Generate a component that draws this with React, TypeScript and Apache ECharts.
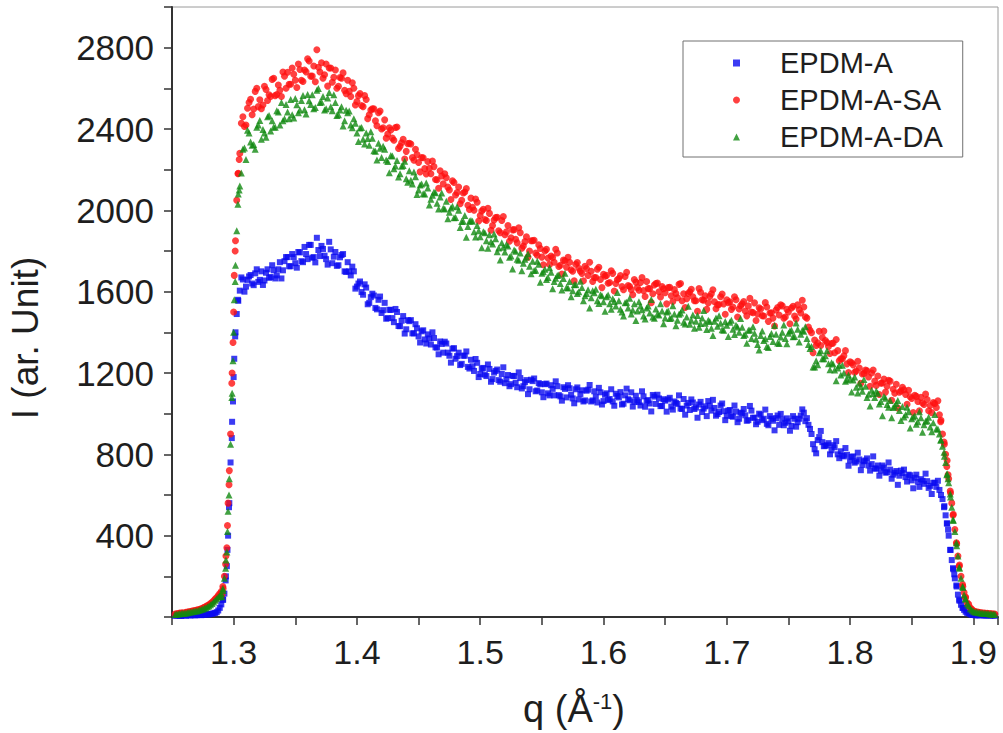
import React, { useEffect, useRef } from "react";
import * as echarts from "echarts";

// Main q grid: Q_START + i * Q_STEP (1.2525 ... 1.9175);
// second reading set sits half a step later (1.25375 ... 1.91625).
const Q_START = 1.2525;
const Q_STEP = 0.0025;

const seriesNames = ["EPDM-A", "EPDM-A-SA", "EPDM-A-DA"];
const xTickLabels = ["1.3", "1.4", "1.5", "1.6", "1.7", "1.8", "1.9"];
const yTickLabels = ["400", "800", "1200", "1600", "2000", "2400", "2800"];

// EPDM-A (blue squares)
const epdmA = [
  6, 9, 5, 8, 11, 7, 10, 9, 12, 10, 14, 13, 16, 20, 32, 62, 115, 330, 760, 1180,
  1490, 1605, 1660, 1625, 1675, 1640, 1690, 1648, 1700, 1655, 1710, 1672, 1705, 1680, 1745, 1705, 1770, 1725, 1785, 1740,
  1795, 1750, 1820, 1760, 1830, 1770, 1865, 1775, 1810, 1760, 1845, 1740, 1795, 1730, 1780, 1700, 1745, 1680, 1700, 1625,
  1650, 1585, 1620, 1545, 1590, 1520, 1560, 1495, 1545, 1470, 1510, 1450, 1500, 1430, 1480, 1415, 1455, 1395, 1440, 1380,
  1405, 1365, 1390, 1340, 1372, 1325, 1355, 1300, 1345, 1285, 1320, 1270, 1300, 1245, 1285, 1230, 1265, 1210, 1250, 1195,
  1225, 1185, 1220, 1170, 1210, 1165, 1195, 1150, 1190, 1145, 1185, 1130, 1175, 1135, 1165, 1120, 1160, 1110, 1150, 1105,
  1145, 1100, 1140, 1090, 1135, 1085, 1130, 1080, 1125, 1075, 1120, 1070, 1115, 1065, 1118, 1060, 1110, 1055, 1105, 1062,
  1100, 1072, 1060, 1098, 1080, 1045, 1090, 1071, 1105, 1058, 1066, 1040, 1085, 1062, 1050, 1092, 1048, 1075, 1038, 1064,
  1070, 1035, 1060, 1048, 1025, 1072, 1040, 1018, 1055, 1030, 1045, 1008, 1036, 1062, 1015, 1028, 998, 1040, 1012, 990,
  1018, 985, 1010, 975, 1002, 992, 968, 1015, 980, 960, 995, 975, 950, 988, 965, 978, 945, 972, 955, 962,
  940, 975, 958, 990, 1005, 978, 925, 850, 805, 885, 860, 842, 855, 820, 835, 800, 815, 790, 798, 770,
  790, 765, 775, 748, 770, 745, 752, 730, 745, 720, 735, 712, 725, 700, 718, 695, 708, 688, 700, 672,
  685, 665, 678, 655, 668, 645, 660, 640, 625, 580, 500, 400, 280, 190, 110, 60, 35, 20, 14, 10,
  9, 8, 10, 7, 9, 8, 6,
];
const epdmA2 = [
  7, 5, 10, 6, 9, 12, 8, 11, 9, 13, 12, 15, 18, 24, 45, 85, 200, 540, 960, 1380,
  1555, 1670, 1600, 1658, 1682, 1632, 1710, 1658, 1633, 1693, 1668, 1730, 1665, 1710, 1665, 1750, 1770, 1725, 1770, 1718,
  1793, 1745, 1785, 1830, 1767, 1744, 1805, 1825, 1777, 1733, 1808, 1772, 1727, 1769, 1785, 1697, 1700, 1723, 1615, 1640,
  1598, 1636, 1538, 1573, 1581, 1513, 1576, 1509, 1467, 1511, 1470, 1515, 1431, 1457, 1394, 1460, 1460, 1395, 1420, 1350,
  1410, 1345, 1370, 1400, 1326, 1292, 1343, 1354, 1300, 1251, 1322, 1283, 1239, 1285, 1306, 1222, 1233, 1269, 1180, 1222,
  1192, 1242, 1157, 1202, 1217, 1157, 1228, 1169, 1135, 1186, 1152, 1203, 1124, 1155, 1096, 1167, 1173, 1114, 1145, 1081,
  1148, 1090, 1122, 1159, 1091, 1064, 1122, 1140, 1093, 1051, 1129, 1097, 1060, 1113, 1141, 1065, 1083, 1127, 1045, 1093,
  1067, 1120, 1039, 1087, 1106, 1049, 1123, 1066, 1035, 1088, 1057, 1110, 1034, 1067, 1011, 1084, 1093, 1037, 1071, 1010,
  1078, 1020, 1053, 1090, 1023, 995, 1053, 1070, 1023, 980, 1058, 1025, 988, 1040, 1068, 990, 1008, 1050, 968, 1015,
  988, 1040, 958, 1005, 1023, 965, 1038, 980, 948, 1000, 968, 1020, 943, 975, 918, 991, 999, 943, 977, 916,
  988, 936, 975, 1021, 963, 945, 900, 825, 870, 915, 840, 845, 800, 845, 865, 781, 793, 831, 744, 787,
  759, 808, 722, 766, 780, 720, 790, 730, 695, 745, 710, 760, 680, 710, 650, 720, 725, 666, 697, 633,
  700, 640, 670, 705, 635, 605, 660, 670, 600, 540, 460, 330, 235, 155, 80, 45, 26, 18, 11, 9,
  8, 10, 7, 9, 6, 8,
];

// EPDM-A-SA (red circles)
const epdmASA = [
  14, 17, 20, 18, 24, 27, 30, 34, 38, 44, 52, 60, 72, 88, 105, 125, 200, 450, 900, 1500,
  2050, 2280, 2460, 2420, 2530, 2470, 2585, 2510, 2500, 2610, 2540, 2560, 2650, 2570, 2590, 2680, 2600, 2620, 2700, 2640,
  2720, 2640, 2690, 2745, 2660, 2710, 2790, 2680, 2650, 2720, 2700, 2630, 2690, 2610, 2650, 2590, 2640, 2560, 2600, 2535,
  2575, 2510, 2545, 2470, 2500, 2440, 2480, 2400, 2445, 2375, 2395, 2345, 2410, 2315, 2350, 2290, 2330, 2260, 2300, 2235,
  2260, 2205, 2240, 2180, 2215, 2150, 2195, 2130, 2160, 2100, 2145, 2075, 2115, 2050, 2090, 2025, 2060, 2000, 2040, 1975,
  2005, 1950, 1985, 1925, 1965, 1900, 1950, 1880, 1925, 1865, 1905, 1840, 1890, 1825, 1870, 1800, 1850, 1790, 1830, 1770,
  1800, 1765, 1775, 1745, 1790, 1730, 1755, 1720, 1745, 1700, 1735, 1715, 1690, 1725, 1680, 1700, 1670, 1710, 1660, 1685,
  1680, 1645, 1690, 1640, 1665, 1625, 1675, 1630, 1610, 1660, 1620, 1645, 1605, 1650, 1615, 1590, 1640, 1600, 1625, 1595,
  1620, 1580, 1610, 1570, 1640, 1590, 1565, 1600, 1575, 1555, 1615, 1560, 1580, 1545, 1590, 1550, 1535, 1575, 1540, 1560,
  1550, 1525, 1560, 1515, 1540, 1505, 1530, 1500, 1545, 1490, 1515, 1480, 1525, 1495, 1470, 1510, 1485, 1530, 1475, 1500,
  1520, 1480, 1535, 1495, 1525, 1470, 1410, 1300, 1335, 1405, 1375, 1360, 1330, 1345, 1300, 1310, 1270, 1285, 1245, 1255,
  1240, 1210, 1225, 1195, 1215, 1180, 1200, 1160, 1185, 1150, 1170, 1135, 1160, 1120, 1145, 1105, 1130, 1095, 1115, 1075,
  1090, 1060, 1080, 1045, 1070, 1040, 1055, 1030, 995, 900, 800, 680, 560, 430, 300, 200, 120, 70, 45, 30,
  25, 22, 20, 18, 17, 16, 15,
];
const epdmASA2 = [
  16, 19, 21, 23, 26, 29, 32, 36, 41, 48, 56, 66, 80, 96, 115, 150, 300, 650, 1200, 1800,
  2182, 2428, 2412, 2502, 2546, 2498, 2600, 2544, 2518, 2594, 2568, 2644, 2564, 2616, 2560, 2659, 2679, 2620, 2669, 2604,
  2693, 2634, 2681, 2734, 2660, 2632, 2704, 2726, 2667, 2611, 2700, 2654, 2600, 2653, 2676, 2574, 2585, 2627, 2518, 2564,
  2516, 2564, 2451, 2493, 2499, 2416, 2488, 2406, 2355, 2406, 2355, 2407, 2304, 2332, 2252, 2328, 2326, 2246, 2274, 2189,
  2259, 2179, 2207, 2242, 2152, 2109, 2169, 2180, 2114, 2053, 2137, 2088, 2032, 2085, 2107, 2004, 2015, 2056, 1948, 1997,
  1955, 2010, 1902, 1952, 1966, 1890, 1970, 1894, 1848, 1904, 1858, 1914, 1814, 1846, 1770, 1850, 1853, 1779, 1812, 1732,
  1808, 1734, 1768, 1809, 1724, 1687, 1752, 1769, 1708, 1653, 1743, 1701, 1654, 1714, 1745, 1650, 1670, 1720, 1620, 1676,
  1641, 1703, 1603, 1659, 1679, 1609, 1695, 1625, 1585, 1647, 1607, 1669, 1576, 1615, 1546, 1633, 1642, 1574, 1614, 1540,
  1621, 1552, 1591, 1636, 1555, 1522, 1591, 1612, 1555, 1504, 1597, 1558, 1513, 1576, 1609, 1516, 1537, 1588, 1489, 1546,
  1513, 1575, 1475, 1531, 1551, 1481, 1567, 1497, 1458, 1521, 1482, 1546, 1454, 1496, 1431, 1522, 1535, 1470, 1513, 1442,
  1528, 1466, 1511, 1558, 1476, 1426, 1398, 1362, 1348, 1335, 1406, 1350, 1296, 1347, 1365, 1260, 1270, 1310, 1202, 1250,
  1204, 1258, 1150, 1198, 1211, 1135, 1215, 1139, 1094, 1151, 1106, 1164, 1066, 1101, 1028, 1112, 1118, 1046, 1083, 1006,
  1085, 1014, 1052, 1096, 1014, 1005, 1050, 1063, 968, 860, 770, 620, 505, 365, 255, 160, 98, 62, 38, 27,
  24, 21, 19, 18, 16, 15,
];

// EPDM-A-DA (green triangles)
const epdmADA = [
  12, 15, 17, 19, 21, 24, 27, 30, 34, 39, 46, 54, 66, 82, 98, 115, 190, 420, 850, 1400,
  1900, 2120, 2300, 2250, 2380, 2320, 2300, 2420, 2350, 2380, 2460, 2390, 2410, 2490, 2420, 2440, 2520, 2450, 2470, 2550,
  2480, 2540, 2495, 2570, 2520, 2500, 2590, 2530, 2560, 2500, 2580, 2490, 2530, 2470, 2510, 2440, 2480, 2420, 2450, 2380,
  2405, 2350, 2380, 2320, 2355, 2290, 2330, 2260, 2300, 2240, 2270, 2205, 2245, 2180, 2220, 2155, 2195, 2130, 2165, 2100,
  2130, 2080, 2110, 2055, 2090, 2035, 2065, 2010, 2045, 1990, 2020, 1965, 2000, 1945, 1975, 1920, 1950, 1895, 1925, 1870,
  1895, 1850, 1880, 1835, 1860, 1815, 1840, 1795, 1825, 1775, 1805, 1760, 1790, 1740, 1770, 1725, 1750, 1705, 1735, 1690,
  1710, 1670, 1695, 1650, 1680, 1640, 1665, 1620, 1650, 1605, 1635, 1600, 1620, 1580, 1610, 1570, 1595, 1555, 1585, 1550,
  1575, 1540, 1565, 1530, 1555, 1500, 1545, 1520, 1490, 1540, 1505, 1530, 1480, 1520, 1495, 1475, 1515, 1485, 1505, 1470,
  1505, 1470, 1490, 1460, 1495, 1450, 1475, 1440, 1485, 1455, 1425, 1470, 1445, 1460, 1420, 1455, 1430, 1445, 1410, 1435,
  1450, 1415, 1435, 1400, 1425, 1390, 1410, 1370, 1395, 1340, 1385, 1360, 1330, 1380, 1355, 1390, 1345, 1400, 1370, 1395,
  1410, 1380, 1415, 1390, 1405, 1370, 1320, 1230, 1260, 1300, 1270, 1285, 1245, 1250, 1215, 1225, 1190, 1200, 1165, 1170,
  1165, 1130, 1150, 1110, 1135, 1095, 1115, 1080, 1100, 1060, 1085, 1045, 1065, 1030, 1050, 1015, 1035, 995, 1010, 975,
  990, 960, 980, 945, 965, 935, 955, 925, 900, 840, 760, 660, 540, 420, 300, 190, 110, 65, 40, 28,
  24, 21, 19, 17, 16, 15, 14,
];
const epdmADA2 = [
  13, 16, 18, 20, 23, 26, 29, 32, 37, 43, 50, 60, 74, 90, 105, 140, 280, 600, 1100, 1650,
  2080, 2184, 2306, 2394, 2336, 2324, 2408, 2442, 2398, 2360, 2466, 2440, 2408, 2484, 2530, 2450, 2484, 2545, 2454, 2519,
  2494, 2565, 2474, 2539, 2568, 2506, 2599, 2533, 2493, 2552, 2510, 2569, 2466, 2493, 2415, 2492, 2489, 2406, 2428, 2338,
  2407, 2326, 2353, 2386, 2293, 2248, 2305, 2315, 2247, 2185, 2267, 2218, 2164, 2217, 2241, 2138, 2148, 2188, 2078, 2125,
  2082, 2135, 2026, 2074, 2086, 2007, 2085, 2006, 1958, 2012, 1964, 2018, 1916, 1946, 1868, 1946, 1946, 1869, 1899, 1816,
  1890, 1814, 1846, 1884, 1796, 1756, 1818, 1832, 1769, 1712, 1799, 1754, 1703, 1760, 1787, 1688, 1704, 1750, 1646, 1698,
  1660, 1718, 1614, 1666, 1682, 1608, 1691, 1618, 1575, 1634, 1591, 1651, 1555, 1591, 1520, 1605, 1612, 1542, 1580, 1504,
  1584, 1514, 1552, 1596, 1514, 1480, 1548, 1568, 1510, 1458, 1550, 1511, 1466, 1529, 1562, 1469, 1490, 1541, 1442, 1500,
  1468, 1531, 1432, 1489, 1510, 1441, 1528, 1459, 1420, 1483, 1444, 1507, 1414, 1453, 1384, 1471, 1481, 1413, 1453, 1379,
  1460, 1389, 1426, 1468, 1384, 1346, 1411, 1427, 1366, 1313, 1406, 1368, 1326, 1394, 1434, 1348, 1377, 1436, 1344, 1407,
  1378, 1446, 1352, 1410, 1428, 1340, 1330, 1230, 1240, 1310, 1270, 1310, 1216, 1244, 1162, 1238, 1238, 1160, 1190, 1106,
  1180, 1102, 1132, 1168, 1079, 1038, 1099, 1112, 1048, 990, 1076, 1031, 980, 1037, 1065, 967, 984, 1031, 929, 983,
  948, 1009, 908, 963, 982, 911, 996, 925, 870, 810, 705, 605, 475, 365, 240, 150, 88, 56, 34, 25,
  22, 20, 18, 17, 15, 14,
];

// extra readings on the steep edges, [q, I]
const epdmAEdges = [
  [1.2915, 85], [1.2935, 180], [1.2945, 250], [1.2955, 400], [1.2965, 560], [1.2985, 880],
  [1.2995, 1060], [1.3005, 1270], [1.3015, 1400], [1.3035, 1560],
  [1.8765, 545], [1.8785, 460], [1.8795, 430], [1.8815, 330], [1.8835, 240], [1.8845, 210],
  [1.8865, 150], [1.8885, 85], [1.8915, 45],
];
const epdmASAEdges = [
  [1.2905, 110], [1.2915, 140], [1.2935, 260], [1.2945, 340], [1.2955, 560], [1.2965, 720],
  [1.2985, 1150], [1.2995, 1350], [1.3005, 1680], [1.3015, 1850], [1.3035, 2180], [1.3045, 2250],
  [1.8735, 960], [1.8765, 850], [1.8785, 740], [1.8795, 700], [1.8815, 610], [1.8835, 500],
  [1.8865, 360], [1.8885, 250], [1.8915, 150], [1.8935, 95],
];
const epdmADAEdges = [
  [1.2905, 100], [1.2915, 130], [1.2935, 240], [1.2945, 320], [1.2955, 520], [1.2965, 680],
  [1.2985, 1080], [1.2995, 1260], [1.3005, 1560], [1.3015, 1730], [1.3035, 2030], [1.3045, 2100],
  [1.8735, 870], [1.8765, 790], [1.8785, 700], [1.8795, 680], [1.8815, 590], [1.8835, 480],
  [1.8865, 350], [1.8885, 245], [1.8915, 145], [1.8935, 90],
];

const FONT = '"Liberation Sans", Arial, Helvetica, sans-serif';
const TEXT = "#1e1e1e";
const AXIS = "#333333";

function toPoints(values: number[], values2: number[], edges: number[][]) {
  const a = values.map((v, i) => [Number((Q_START + i * Q_STEP).toFixed(5)), v]);
  const b = values2.map((v, i) => [Number((Q_START + Q_STEP / 2 + i * Q_STEP).toFixed(5)), v]);
  return a.concat(b, edges).sort((p, q) => p[0] - q[0]);
}

export default function App() {
  const ref = useRef<HTMLDivElement>(null);

  useEffect(() => {
    if (!ref.current) return;
    const chart = echarts.init(ref.current, null, { renderer: "svg" });

    const option = {
      animation: false,
      backgroundColor: "#ffffff",
      grid: {
        left: 172,
        top: 7,
        right: 5,
        bottom: 116,
        show: true,
        borderColor: "#9a9a9a",
        borderWidth: 1,
        backgroundColor: "transparent",
      },
      xAxis: {
        type: "value",
        min: 1.25,
        max: 1.92,
        interval: 0.05,
        axisLine: { show: true, onZero: false, lineStyle: { color: AXIS, width: 2 } },
        axisTick: { show: true, inside: false, length: 8, lineStyle: { color: AXIS, width: 1.5 } },
        axisLabel: {
          fontSize: 34,
          fontFamily: FONT,
          color: TEXT,
          margin: 18,
          formatter: (v: number) => {
            const s = v.toFixed(1);
            return xTickLabels.includes(s) && Math.abs(v - parseFloat(s)) < 1e-6 ? s : "";
          },
        },
        splitLine: { show: false },
      },
      yAxis: {
        type: "value",
        min: 0,
        max: 3000,
        interval: 200,
        axisLine: { show: true, lineStyle: { color: AXIS, width: 2 } },
        axisTick: { show: true, inside: false, length: 8, lineStyle: { color: AXIS, width: 1.5 } },
        axisLabel: {
          fontSize: 35,
          fontFamily: FONT,
          color: TEXT,
          margin: 18,
          formatter: (v: number) => (yTickLabels.includes(String(Math.round(v))) ? String(Math.round(v)) : ""),
        },
        splitLine: { show: false },
      },
      legend: {
        orient: "vertical",
        left: 683,
        top: 41,
        padding: [7, 20, 5, 50],
        itemWidth: 7,
        itemHeight: 7,
        itemGap: 7,
        borderColor: "#707070",
        borderWidth: 1,
        backgroundColor: "#ffffff",
        selectedMode: false,
        textStyle: { fontSize: 29, fontFamily: FONT, color: TEXT, lineHeight: 30, padding: [0, 0, 0, 35] },
        data: [
          { name: seriesNames[0], icon: "rect", itemStyle: { color: "#0a0af0" } },
          { name: seriesNames[1], icon: "circle", itemStyle: { color: "#ff1010" } },
          { name: seriesNames[2], icon: "triangle", itemStyle: { color: "#128a12" } },
        ],
      },
      series: [
        {
          name: seriesNames[0],
          type: "scatter",
          symbol: "rect",
          symbolSize: 6,
          silent: true,
          itemStyle: { color: "#0a0af0" },
          data: toPoints(epdmA, epdmA2, epdmAEdges),
        },
        {
          name: seriesNames[1],
          type: "scatter",
          symbol: "circle",
          symbolSize: 7,
          silent: true,
          itemStyle: { color: "#ff1010" },
          data: toPoints(epdmASA, epdmASA2, epdmASAEdges),
        },
        {
          name: seriesNames[2],
          type: "scatter",
          symbol: "triangle",
          symbolSize: 7,
          silent: true,
          itemStyle: { color: "#128a12" },
          data: toPoints(epdmADA, epdmADA2, epdmADAEdges),
        },
      ],
      graphic: [
        {
          type: "text",
          x: 25,
          y: 338,
          rotation: Math.PI / 2,
          style: {
            text: "I (ar. Unit)",
            fontSize: 37,
            fontFamily: FONT,
            fill: TEXT,
            align: "center",
            verticalAlign: "middle",
          },
        },
        {
          type: "text",
          x: 574,
          y: 709,
          style: {
            text: "q (Å{sup|-1})",
            fontSize: 38,
            fontFamily: FONT,
            fill: TEXT,
            align: "center",
            verticalAlign: "middle",
            rich: {
              sup: { fontSize: 22, fontFamily: FONT, fill: TEXT, verticalAlign: "top" },
            },
          },
        },
      ],
    };

    chart.setOption(option as any);
    return () => {
      chart.dispose();
    };
  }, []);

  return (
    <div
      ref={ref}
      style={{ position: "absolute", left: 0, top: 0, width: 1003, height: 733, background: "#ffffff" }}
    />
  );
}
